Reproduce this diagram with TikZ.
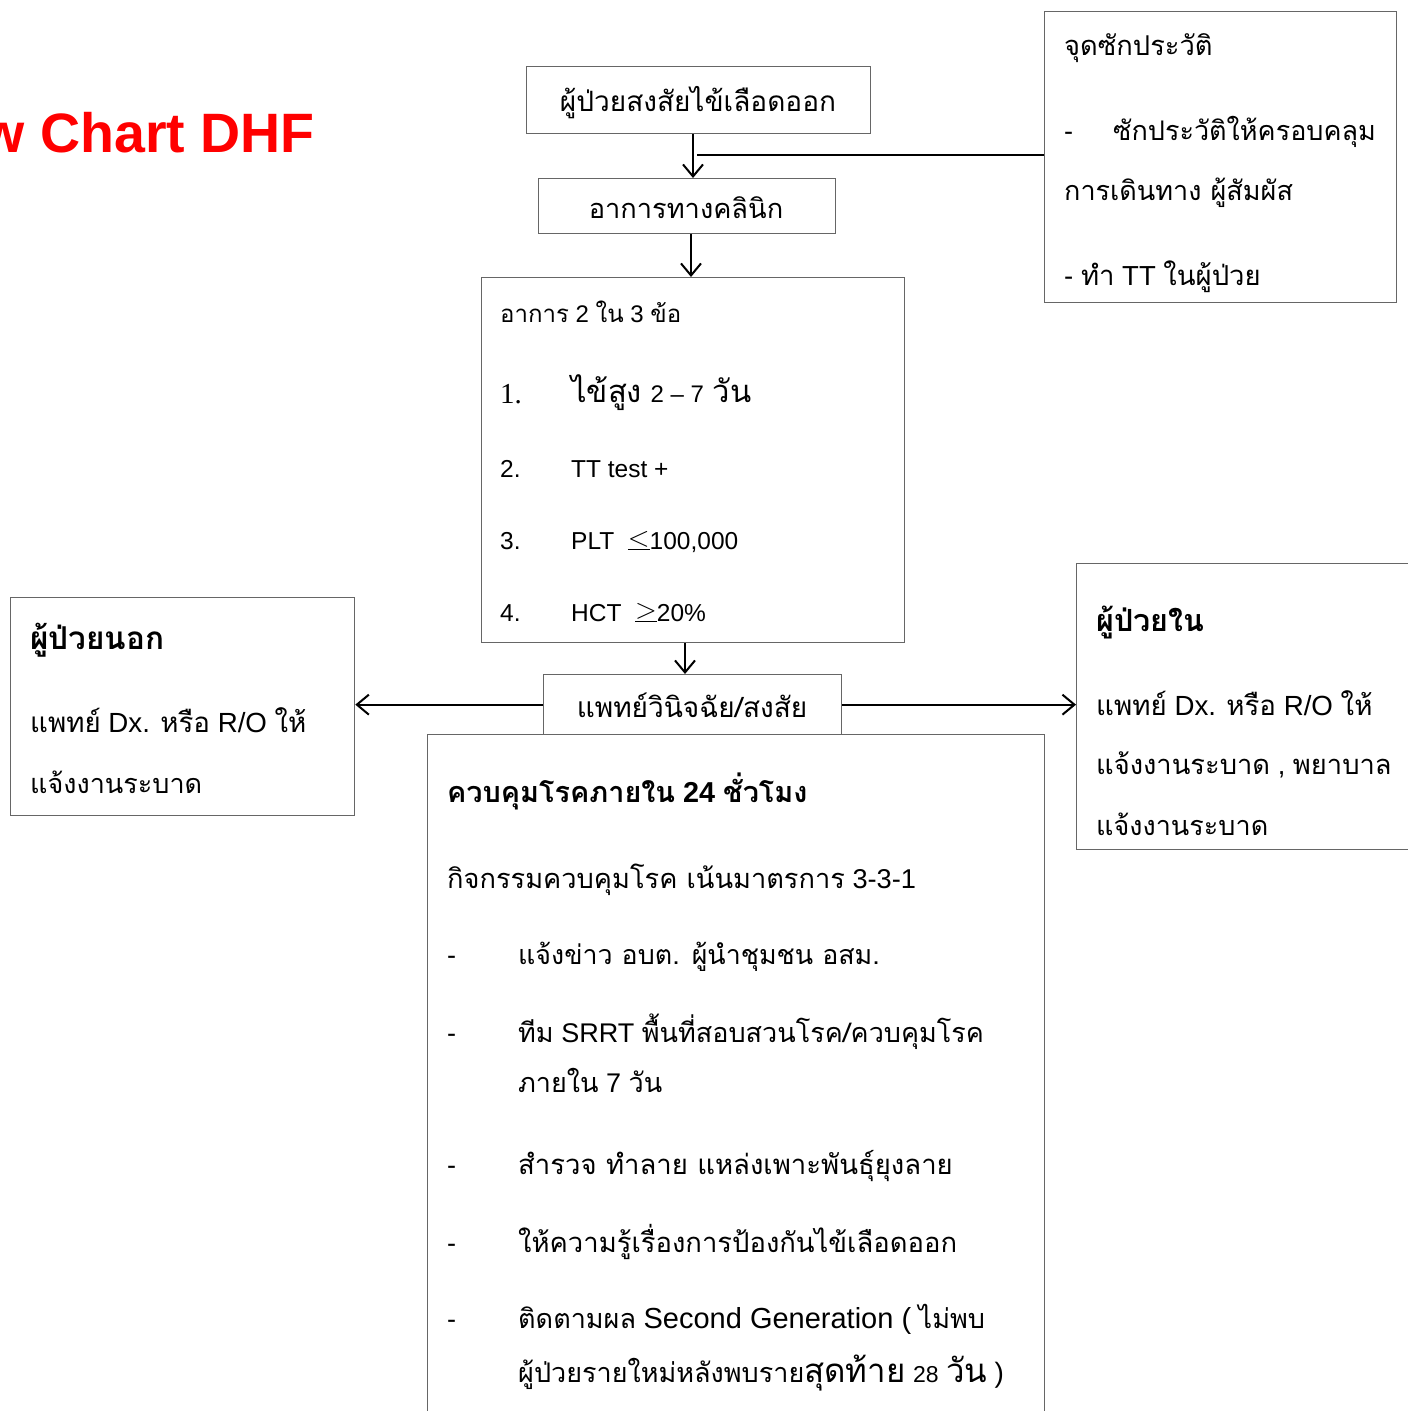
\documentclass[tikz,border=0pt]{standalone}
\usepackage{fontspec}
\setmainfont{Liberation Sans}
\newfontfamily\thaifont[Script=Thai]{Loma}
\newfontfamily\timesfont{Liberation Serif}
\newcommand\T[1]{{\thaifont #1}}
\newcommand\fs[1]{\fontsize{#1}{#1}\selectfont}
\newcommand\lequ{\raisebox{0.1em}{\scalebox{1.15}{$\underline{<}$}}}
\newcommand\gequ{\raisebox{0.1em}{\scalebox{1.15}{$\underline{>}$}}}
\usetikzlibrary{arrows.meta}
\tikzset{
  box/.style={draw=black!60, line width=1.3pt, rectangle, inner sep=0pt, anchor=north west},
  arr/.style={draw=black, line width=2pt, -{Straight Barb[length=12pt,width=20pt,line width=2pt]}},
  plain/.style={draw=black, line width=2pt},
  txt/.style={anchor=base west, inner sep=0pt},
  ctr/.style={anchor=base, inner sep=0pt},
}
\begin{document}
\begin{tikzpicture}[x=1pt,y=-1pt]
\useasboundingbox (0,0) rectangle (1408,1411);
\clip (0,0) rectangle (1408,1411);
% title
\node[inner sep=0pt, anchor=base east, text=red, font=\fs{55.5}\bfseries] (title) at (315,152) {Flow Chart DHF};
% boxes
\node[box, minimum width=344pt, minimum height=67pt] (A) at (526,66) {};
\node[box, minimum width=297pt, minimum height=55pt] (B) at (538,178) {};
\node[box, minimum width=423pt, minimum height=365pt] (C) at (481,277) {};
\node[box, minimum width=298pt, minimum height=60pt] (D) at (543,674) {};
\node[box, minimum width=344pt, minimum height=218pt] (E) at (10,597) {};
\node[box, minimum width=344pt, minimum height=286pt] (F) at (1076,563) {};
\node[box, minimum width=352pt, minimum height=291pt] (G) at (1044,11) {};
\node[box, minimum width=617pt, minimum height=700pt] (H) at (427,734) {};
% box texts
\node[ctr, font=\fs{28}] (tA) at (698,111) {\T{ผู้ป่วยสงสัยไข้เลือดออก}};
\node[ctr, font=\fs{27.2}] (tB) at (686,218) {\T{อาการทางคลินิก}};
% C
\node[txt, font=\fs{24}] (c0) at (500,322) {\T{อาการ} 2 \T{ใน} 3 \T{ข้อ}};
\node[txt, font=\fs{29}] (c1n) at (500,403) {\timesfont 1.};
\node[txt, font=\fs{31}] (c1) at (571,402) {\T{ไข้สูง} {\fs{24}2 – 7} \T{วัน}};
\node[txt, font=\fs{24.5}] (c2n) at (500,477) {2.};
\node[txt, font=\fs{24.5}] (c2) at (571,477) {TT test +};
\node[txt, font=\fs{24.5}] (c3n) at (500,549) {3.};
\node[txt, font=\fs{24.5}] (c3) at (571,549) {PLT\ \ \lequ100,000};
\node[txt, font=\fs{24.5}] (c4n) at (500,621) {4.};
\node[txt, font=\fs{24.5}] (c4) at (571,621) {HCT\ \ \gequ20\%};
% D
\node[ctr, font=\fs{28}] (tD) at (692,717) {\T{แพทย์วินิจฉัย/สงสัย}};
% E
\node[txt, font=\fs{31.5}\bfseries] (e0) at (30,649) {\T{ผู้ป่วยนอก}};
\node[txt, font=\fs{27.7}] (e1) at (30,732) {\T{แพทย์} Dx. \T{หรือ} R/O \T{ให้}};
\node[txt, font=\fs{27}] (e2) at (30,793) {\T{แจ้งงานระบาด}};
% F
\node[txt, font=\fs{30.5}\bfseries] (f0) at (1096,631) {\T{ผู้ป่วยใน}};
\node[txt, font=\fs{27.7}] (f1) at (1096,715) {\T{แพทย์} Dx. \T{หรือ} R/O \T{ให้}};
\node[txt, font=\fs{27.3}] (f2) at (1096,774) {\T{แจ้งงานระบาด} , \T{พยาบาล}};
\node[txt, font=\fs{27}] (f3) at (1096,835) {\T{แจ้งงานระบาด}};
% G
\node[txt, font=\fs{27.3}] (g0) at (1064,55) {\T{จุดซักประวัติ}};
\node[txt, font=\fs{27}] (g1d) at (1064,140) {-};
\node[txt, font=\fs{27}] (g1) at (1113,140) {\T{ซักประวัติให้ครอบคลุม}};
\node[txt, font=\fs{27}] (g2) at (1064,200) {\T{การเดินทาง ผู้สัมผัส}};
\node[txt, font=\fs{27.5}] (g3) at (1064,285) {- \T{ทำ} TT \T{ในผู้ป่วย}};
% H
\node[txt, font=\fs{28.8}\bfseries] (h0) at (447,802) {\T{ควบคุมโรคภายใน} 24 \T{ชั่วโมง}};
\node[txt, font=\fs{27.2}] (h1) at (447,888) {\T{กิจกรรมควบคุมโรค เน้นมาตรการ} 3-3-1};
\node[txt, font=\fs{27}] (h2d) at (447,964) {-};
\node[txt, font=\fs{26.8}] (h2) at (518,964) {\T{แจ้งข่าว อบต. ผู้นำชุมชน อสม.}};
\node[txt, font=\fs{27}] (h3d) at (447,1042) {-};
\node[txt, font=\fs{27}] (h3) at (518,1042) {\T{ทีม} SRRT \T{พื้นที่สอบสวนโรค/ควบคุมโรค}};
\node[txt, font=\fs{27}] (h3b) at (518,1092) {\T{ภายใน} 7 \T{วัน}};
\node[txt, font=\fs{27}] (h4d) at (447,1174) {-};
\node[txt, font=\fs{27.5}] (h4) at (518,1174) {\T{สำรวจ ทำลาย แหล่งเพาะพันธุ์ยุงลาย}};
\node[txt, font=\fs{27}] (h5d) at (447,1252) {-};
\node[txt, font=\fs{27.4}] (h5) at (518,1252) {\T{ให้ความรู้เรื่องการป้องกันไข้เลือดออก}};
\node[txt, font=\fs{27}] (h6d) at (447,1328) {-};
\node[txt, font=\fs{27}] (h6) at (518,1328) {\T{ติดตามผล} {\fs{29}Second Generation (} \T{ไม่พบ}};
\node[txt, font=\fs{27}] (h6b) at (518,1382) {\T{ผู้ป่วยรายใหม่หลังพบราย}{\fs{33}\T{สุดท้าย}} {\fs{23}28} {\fs{33}\T{วัน}} {\fs{28})}};
% connectors
\coordinate (x1) at (693,0);
\coordinate (x2) at (691,0);
\coordinate (x3) at (685,0);
\coordinate (gj) at (697,155);
\draw[arr] (A.south -| x1) -- (B.north -| x1);
\draw[plain] (G.west |- gj) -- (gj);
\draw[arr] (B.south -| x2) -- (C.north -| x2);
\draw[arr] (C.south -| x3) -- (D.north -| x3);
\draw[arr] (D.west) -- (E.east |- D.west);
\draw[arr] (D.east) -- (F.west |- D.east);
\end{tikzpicture}
\end{document}
